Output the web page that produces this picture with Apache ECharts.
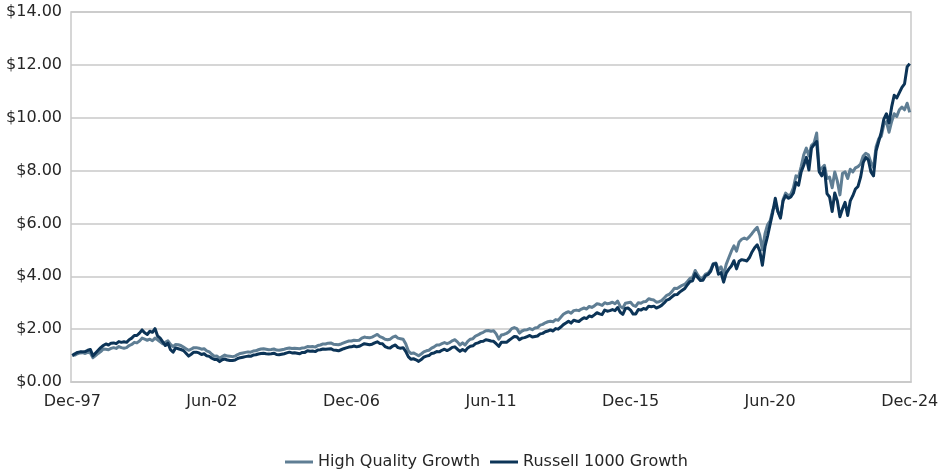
<!DOCTYPE html>
<html>
<head>
<meta charset="utf-8">
<title>Growth of $1</title>
<script src="https://cdn.jsdelivr.net/npm/echarts@6/dist/echarts.min.js"></script>
<style>
  html, body { margin: 0; padding: 0; background: #ffffff; }
  #chart { width: 943px; height: 471px; }
</style>
</head>
<body>
<div id="chart"></div>
<script>
// Monthly growth of $1, December 1997 through December 2024.
const firstYear = 1997;
const firstMonth = 11; // December (0-based)
const monthNames = ['Jan', 'Feb', 'Mar', 'Apr', 'May', 'Jun', 'Jul', 'Aug', 'Sep', 'Oct', 'Nov', 'Dec'];

const seriesNames = ['High Quality Growth', 'Russell 1000 Growth'];

const highQualityGrowth = [
  1.00,
  1.02, 1.07, 1.10, 1.11, 1.08, 1.12, 1.10, 0.92, 1.00, 1.08, 1.15, 1.25, // 1998
  1.24, 1.22, 1.27, 1.30, 1.27, 1.34, 1.30, 1.28, 1.30, 1.38, 1.42, 1.50, // 1999
  1.48, 1.55, 1.66, 1.62, 1.58, 1.62, 1.56, 1.66, 1.60, 1.52, 1.45, 1.50, // 2000
  1.56, 1.42, 1.34, 1.42, 1.41, 1.38, 1.32, 1.26, 1.20, 1.24, 1.30, 1.30, // 2001
  1.28, 1.24, 1.26, 1.18, 1.14, 1.05, 0.97, 0.98, 0.90, 0.96, 1.02, 0.98, // 2002
  0.97, 0.96, 0.98, 1.04, 1.08, 1.10, 1.12, 1.14, 1.13, 1.17, 1.18, 1.22, // 2003
  1.25, 1.26, 1.24, 1.22, 1.23, 1.25, 1.21, 1.20, 1.22, 1.24, 1.27, 1.29, // 2004
  1.27, 1.28, 1.27, 1.26, 1.29, 1.30, 1.34, 1.33, 1.34, 1.32, 1.38, 1.40, // 2005
  1.44, 1.44, 1.47, 1.48, 1.43, 1.42, 1.41, 1.44, 1.48, 1.52, 1.55, 1.55, // 2006
  1.58, 1.57, 1.58, 1.66, 1.70, 1.68, 1.67, 1.70, 1.75, 1.80, 1.72, 1.68, // 2007
  1.62, 1.60, 1.62, 1.70, 1.74, 1.66, 1.64, 1.62, 1.45, 1.18, 1.08, 1.10, // 2008
  1.05, 0.99, 1.06, 1.14, 1.18, 1.20, 1.28, 1.33, 1.40, 1.40, 1.45, 1.49, // 2009
  1.45, 1.49, 1.56, 1.60, 1.52, 1.40, 1.48, 1.40, 1.54, 1.62, 1.64, 1.74, // 2010
  1.78, 1.84, 1.88, 1.94, 1.95, 1.92, 1.94, 1.82, 1.62, 1.78, 1.80, 1.84, // 2011
  1.90, 2.02, 2.06, 2.02, 1.85, 1.93, 1.97, 1.98, 2.02, 1.98, 2.04, 2.06, // 2012
  2.15, 2.18, 2.24, 2.28, 2.30, 2.28, 2.36, 2.34, 2.45, 2.56, 2.62, 2.66, // 2013
  2.60, 2.70, 2.72, 2.70, 2.76, 2.80, 2.76, 2.86, 2.82, 2.88, 2.96, 2.94, // 2014
  2.90, 3.00, 2.96, 2.98, 3.02, 2.96, 3.06, 2.86, 2.80, 2.98, 3.00, 3.02, // 2015
  2.90, 2.86, 3.00, 2.98, 3.04, 3.05, 3.15, 3.12, 3.10, 3.02, 3.04, 3.08, // 2016
  3.18, 3.28, 3.32, 3.42, 3.55, 3.54, 3.60, 3.66, 3.70, 3.80, 3.92, 3.96, // 2017
  4.22, 4.05, 3.92, 3.95, 4.08, 4.12, 4.25, 4.48, 4.50, 4.25, 4.36, 4.05, // 2018
  4.45, 4.70, 4.95, 5.15, 4.95, 5.30, 5.40, 5.45, 5.40, 5.50, 5.62, 5.75, // 2019
  5.85, 5.55, 5.00, 5.60, 5.95, 6.10, 6.50, 6.75, 6.45, 6.25, 6.90, 7.15, // 2020
  7.05, 7.10, 7.35, 7.80, 7.75, 8.15, 8.60, 8.85, 8.55, 8.95, 9.05, 9.42, // 2021
  8.00, 8.10, 8.20, 7.70, 7.75, 7.35, 7.95, 7.60, 7.08, 7.90, 7.95, 7.70, // 2022
  8.05, 7.95, 8.10, 8.15, 8.25, 8.55, 8.65, 8.60, 8.30, 8.12, 8.90, 9.20, // 2023
  9.30, 9.75, 9.85, 9.45, 9.85, 10.15, 10.05, 10.30, 10.40, 10.30, 10.55, 10.20 // 2024
];

const russell1000Growth = [
  1.00,
  1.07, 1.12, 1.14, 1.14, 1.15, 1.20, 1.23, 0.99, 1.10, 1.20, 1.30, 1.38, // 1998
  1.44, 1.40, 1.47, 1.48, 1.45, 1.53, 1.50, 1.52, 1.50, 1.60, 1.66, 1.76, // 1999
  1.76, 1.85, 1.97, 1.86, 1.80, 1.92, 1.88, 2.02, 1.74, 1.66, 1.52, 1.38, // 2000
  1.47, 1.22, 1.13, 1.29, 1.26, 1.23, 1.19, 1.09, 0.98, 1.05, 1.13, 1.13, // 2001
  1.10, 1.04, 1.07, 0.99, 0.97, 0.90, 0.85, 0.85, 0.77, 0.84, 0.87, 0.83, // 2002
  0.81, 0.81, 0.83, 0.89, 0.92, 0.94, 0.96, 0.98, 0.97, 1.02, 1.03, 1.06, // 2003
  1.08, 1.09, 1.07, 1.06, 1.07, 1.09, 1.04, 1.03, 1.05, 1.07, 1.10, 1.13, // 2004
  1.10, 1.11, 1.09, 1.07, 1.12, 1.12, 1.18, 1.16, 1.17, 1.15, 1.21, 1.22, // 2005
  1.25, 1.24, 1.25, 1.26, 1.21, 1.20, 1.18, 1.22, 1.26, 1.29, 1.32, 1.33, // 2006
  1.36, 1.33, 1.35, 1.40, 1.45, 1.43, 1.41, 1.43, 1.48, 1.52, 1.46, 1.45, // 2007
  1.34, 1.30, 1.29, 1.36, 1.40, 1.30, 1.28, 1.30, 1.16, 0.96, 0.86, 0.88, // 2008
  0.84, 0.78, 0.85, 0.94, 0.98, 1.00, 1.08, 1.10, 1.15, 1.14, 1.20, 1.24, // 2009
  1.19, 1.24, 1.31, 1.33, 1.24, 1.16, 1.23, 1.17, 1.29, 1.35, 1.37, 1.45, // 2010
  1.48, 1.53, 1.54, 1.60, 1.58, 1.55, 1.54, 1.45, 1.35, 1.50, 1.50, 1.50, // 2011
  1.58, 1.65, 1.72, 1.71, 1.60, 1.66, 1.68, 1.72, 1.76, 1.70, 1.72, 1.74, // 2012
  1.82, 1.84, 1.90, 1.93, 1.97, 1.93, 2.02, 2.00, 2.08, 2.17, 2.23, 2.30, // 2013
  2.23, 2.34, 2.31, 2.29, 2.37, 2.43, 2.40, 2.50, 2.47, 2.54, 2.62, 2.58, // 2014
  2.55, 2.72, 2.68, 2.70, 2.74, 2.70, 2.82, 2.64, 2.56, 2.78, 2.80, 2.72, // 2015
  2.57, 2.57, 2.74, 2.72, 2.78, 2.75, 2.87, 2.85, 2.87, 2.80, 2.84, 2.90, // 2016
  2.99, 3.10, 3.14, 3.22, 3.30, 3.31, 3.40, 3.47, 3.54, 3.68, 3.80, 3.83, // 2017
  4.10, 3.95, 3.84, 3.85, 4.02, 4.07, 4.19, 4.46, 4.48, 4.08, 4.14, 3.78, // 2018
  4.12, 4.27, 4.39, 4.59, 4.28, 4.57, 4.63, 4.61, 4.58, 4.71, 4.92, 5.08, // 2019
  5.19, 4.95, 4.42, 5.12, 5.52, 5.97, 6.42, 6.95, 6.45, 6.20, 6.85, 7.05, // 2020
  6.95, 7.00, 7.15, 7.55, 7.45, 7.95, 8.20, 8.50, 8.02, 8.85, 8.98, 9.10, // 2021
  7.95, 7.80, 8.10, 7.13, 7.00, 6.45, 7.15, 6.85, 6.25, 6.55, 6.80, 6.30, // 2022
  6.85, 7.05, 7.30, 7.40, 7.75, 8.30, 8.50, 8.40, 7.95, 7.80, 8.75, 9.10, // 2023
  9.45, 9.95, 10.15, 9.80, 10.40, 10.85, 10.75, 10.95, 11.15, 11.28, 11.92, 12.05 // 2024
];

// Month labels such as "Dec-97"; every 54th one is shown on the axis.
const categories = russell1000Growth.map(function (_, i) {
  const m = firstMonth + i;
  const year = firstYear + Math.floor(m / 12);
  return monthNames[m % 12] + '-' + String(year % 100).padStart(2, '0');
});
const labelEvery = 54;

const gridColor = '#c9c9c9';
const textColor = '#262626';
const font = 'DejaVu Sans';

const chart = echarts.init(document.getElementById('chart'), null, { renderer: 'canvas' });

chart.setOption({
  animation: false,
  backgroundColor: '#ffffff',
  color: ['#5f7e94', '#0c3457'],
  grid: {
    left: 71, right: 32, top: 12, bottom: 89,
    show: true, borderColor: gridColor, borderWidth: 1.5, backgroundColor: 'transparent'
  },
  xAxis: {
    type: 'category',
    data: categories,
    boundaryGap: true,
    axisLine: { lineStyle: { color: gridColor, width: 1.5 } },
    axisTick: { inside: true, length: 8, interval: labelEvery - 1, lineStyle: { color: gridColor, width: 1.5 } },
    axisLabel: { interval: labelEvery - 1, margin: 12, color: textColor, fontFamily: font, fontSize: 16 },
    splitLine: { show: false }
  },
  yAxis: {
    type: 'value',
    min: 0, max: 14, interval: 2,
    axisLine: { show: false },
    axisTick: { show: false },
    splitLine: { lineStyle: { color: gridColor, width: 1.5 } },
    axisLabel: {
      margin: 9, color: textColor, fontFamily: font, fontSize: 16,
      formatter: function (v) { return '$' + v.toFixed(2); }
    }
  },
  legend: {
    left: 280, top: 449,
    icon: 'rect', itemWidth: 28, itemHeight: 3, itemGap: 10,
    textStyle: { color: textColor, fontFamily: font, fontSize: 16 },
    data: seriesNames
  },
  series: [
    {
      name: seriesNames[0], type: 'line', data: highQualityGrowth,
      symbol: 'none', smooth: false,
      lineStyle: { width: 3, join: 'round' }
    },
    {
      name: seriesNames[1], type: 'line', data: russell1000Growth,
      symbol: 'none', smooth: false,
      lineStyle: { width: 3, join: 'round' }
    }
  ]
});
</script>
</body>
</html>
